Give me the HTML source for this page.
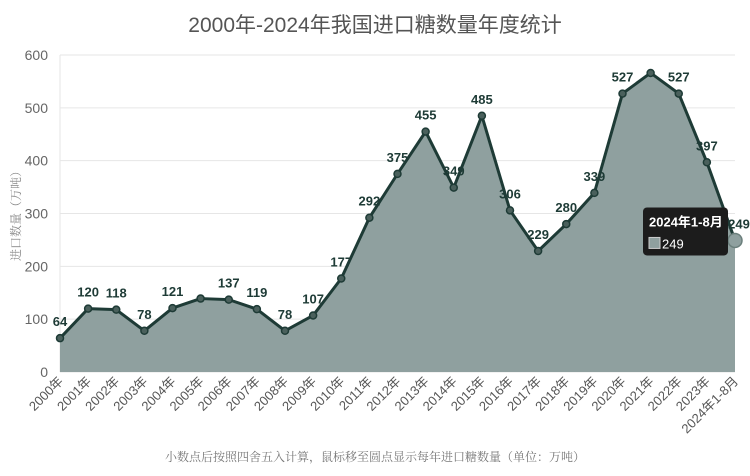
<!DOCTYPE html>
<html><head><meta charset="utf-8"><style>
body{margin:0;background:#fff;width:750px;height:471px;overflow:hidden;font-family:"Liberation Sans","Noto Sans CJK SC",sans-serif}
</style></head><body>
<svg id="c" width="750" height="471" xmlns="http://www.w3.org/2000/svg">
<text x="375" y="32" text-anchor="middle" font-size="21" fill="#555" font-family="Liberation Sans, Noto Sans CJK SC, sans-serif">2000年-2024年我国进口糖数量年度统计</text>
<text transform="translate(20,213) rotate(-90)" text-anchor="middle" font-size="12" fill="#888" font-family="Noto Serif CJK SC, serif">进口数量（万吨）</text>
<text x="375" y="461" text-anchor="middle" font-size="12" fill="#777" font-family="Noto Serif CJK SC, serif">小数点后按照四舍五入计算，鼠标移至圆点显示每年进口糖数量（单位：万吨）</text>
<g id="grid"></g><g id="area"></g><g id="pts"></g><g id="labels"></g><g id="xt"></g>
</svg>
<script>
const categories=["2000年","2001年","2002年","2003年","2004年","2005年","2006年","2007年","2008年","2009年","2010年","2011年","2012年","2013年","2014年","2015年","2016年","2017年","2018年","2019年","2020年","2021年","2022年","2023年","2024年1-8月"];
const values=[64,120,118,78,121,139,137,119,78,107,177,292,375,455,349,485,306,229,280,339,527,566,527,397,249];
const showLabel=[1,1,1,1,1,0,1,1,1,1,1,1,1,1,1,1,1,1,1,1,1,0,1,1,1];
const yTicks=[0,100,200,300,400,500,600];
const NS="http://www.w3.org/2000/svg";
const x0=60,x1=735,yb=372,yt=55;
const X=i=>x0+(x1-x0)*i/(categories.length-1);
const Y=v=>yb-(yb-yt)*v/600;
function mk(t,a,p){const e=document.createElementNS(NS,t);for(const k in a)e.setAttribute(k,a[k]);p.appendChild(e);return e;}
const g=document.getElementById('grid');
yTicks.forEach(t=>{
 const l=mk('line',{x1:x0,x2:x1,y1:Y(t),y2:Y(t),stroke:'#e6e6e6'},g);
 
 
 const tx=mk('text',{x:48,y:Y(t)+5,'text-anchor':'end','font-size':14,fill:'#666'},g);
 tx.textContent=t;
 
 
});
mk('line',{x1:x0,x2:x0,y1:yt,y2:yb,stroke:'#e6e6e6'},g);
let d='';values.forEach((v,i)=>d+=(i?'L':'M')+X(i)+','+Y(v));
const ar=mk('path',{d:d+'L'+X(values.length-1)+','+yb+'L'+x0+','+yb+'Z',fill:'#8fa09f'},document.getElementById('area'));


const ln=mk('path',{d:d,fill:'none',stroke:'#1e3b36','stroke-width':3,'stroke-linejoin':'round'},document.getElementById('area'));


const P=document.getElementById('pts'),L=document.getElementById('labels'),XT=document.getElementById('xt');
values.forEach((v,i)=>{
 const last=i===values.length-1;
 const c=mk('circle',{cx:X(i),cy:Y(v),r:last?7:3.5,fill:last?'#8fa09f':'#4a605c',stroke:last?'#6b7f7c':'#1e3b36','stroke-width':1.5},P);
 
 
 if(showLabel[i]){
  const t=mk('text',{x:X(i)+(last?4:0),y:Y(v)-12,'text-anchor':'middle','font-size':13,'font-weight':'bold',fill:'#1e3b36'},L);
  t.textContent=v;
  
  
 }
 const xt=mk('text',{transform:'translate('+(X(i)+4)+','+(yb+10)+') rotate(-45)','text-anchor':'end','font-size':13,fill:'#555'},XT);
 xt.textContent=categories[i];
 
 
});
const li=values.length-1;
const tg=mk('g',{},document.getElementById('c'));


mk('rect',{x:X(li)-92,y:Y(values[li])-33,width:85,height:48,rx:4,fill:'#1c1c1c'},tg);
const t1=mk('text',{x:X(li)-86,y:Y(values[li])-14,'font-size':13,'font-weight':'bold',fill:'#fff'},tg);
t1.textContent=categories[li];
mk('rect',{x:X(li)-86,y:Y(values[li])-3,width:11,height:11,fill:'#8fa09f',stroke:'#ccc'},tg);
const t2=mk('text',{x:X(li)-73,y:Y(values[li])+8,'font-size':13,fill:'#fff'},tg);
t2.textContent=values[li];
</script>
</body></html>
